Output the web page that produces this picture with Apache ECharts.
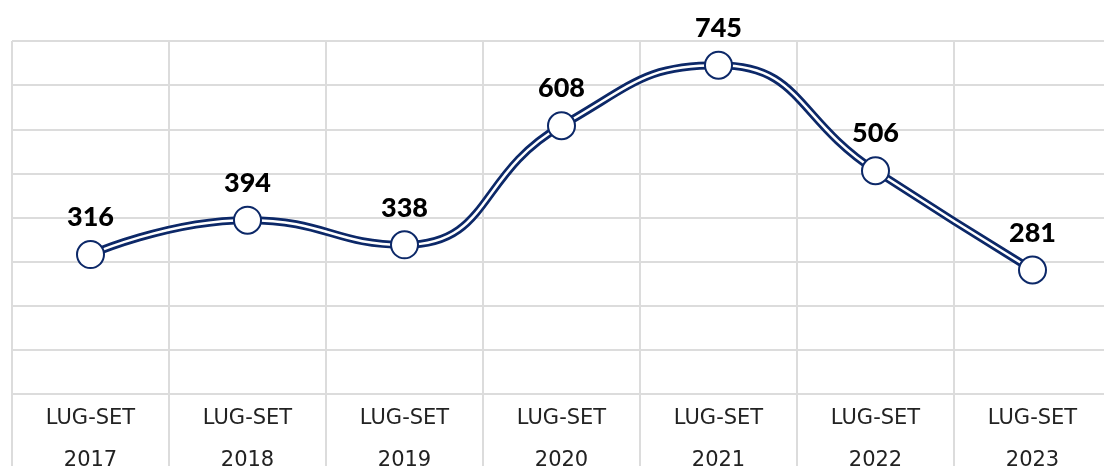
<!DOCTYPE html>
<html>
<head>
<meta charset="utf-8">
<script src="https://cdn.jsdelivr.net/npm/echarts@6/dist/echarts.min.js"></script>
<style>
  html, body { margin: 0; padding: 0; background: #fff; }
  #chart { width: 1104px; height: 466px; }
</style>
</head>
<body>
<div id="chart"></div>
<script>
var periods = ['LUG-SET\n2017', 'LUG-SET\n2018', 'LUG-SET\n2019', 'LUG-SET\n2020', 'LUG-SET\n2021', 'LUG-SET\n2022', 'LUG-SET\n2023'];
var values = [316, 394, 338, 608, 745, 506, 281];

var navy = '#0c2868';
var gridColor = '#dcdcdc';

var chart = echarts.init(document.getElementById('chart'));

var option = {
    animation: false,
    grid: { left: 12, right: -7, top: 41, bottom: 72, containLabel: false, outerBoundsMode: 'none' },
    xAxis: {
        type: 'category',
        data: periods,
        boundaryGap: true,
        axisLine: { show: true, lineStyle: { color: gridColor, width: 2 } },
        axisTick: { show: true, length: 80, lineStyle: { color: gridColor, width: 2 } },
        splitLine: { show: true, lineStyle: { color: gridColor, width: 2 } },
        axisLabel: {
            color: '#222',
            fontFamily: 'DejaVu Sans',
            fontSize: 21,
            lineHeight: 42,
            margin: 4,
            interval: 0
        }
    },
    yAxis: {
        type: 'value',
        min: 0,
        max: 800,
        interval: 100,
        axisLabel: { show: false },
        axisLine: { show: false },
        axisTick: { show: false },
        splitLine: { show: true, lineStyle: { color: gridColor, width: 2 } }
    },
    series: [
        {
            type: 'line',
            data: values,
            smooth: 0.5,
            showSymbol: false,
            lineStyle: { color: navy, width: 8 },
            silent: true
        },
        {
            type: 'line',
            data: values,
            smooth: 0.5,
            symbol: 'circle',
            symbolSize: 27,
            itemStyle: { color: '#fff', borderColor: navy, borderWidth: 2 },
            lineStyle: { color: '#fff', width: 2.5 },
            label: {
                show: true,
                position: 'top',
                distance: 9,
                color: '#000',
                fontFamily: 'Lato',
                fontWeight: 900,
                fontSize: 27
            }
        }
    ]
};

chart.setOption(option);
</script>
</body>
</html>
